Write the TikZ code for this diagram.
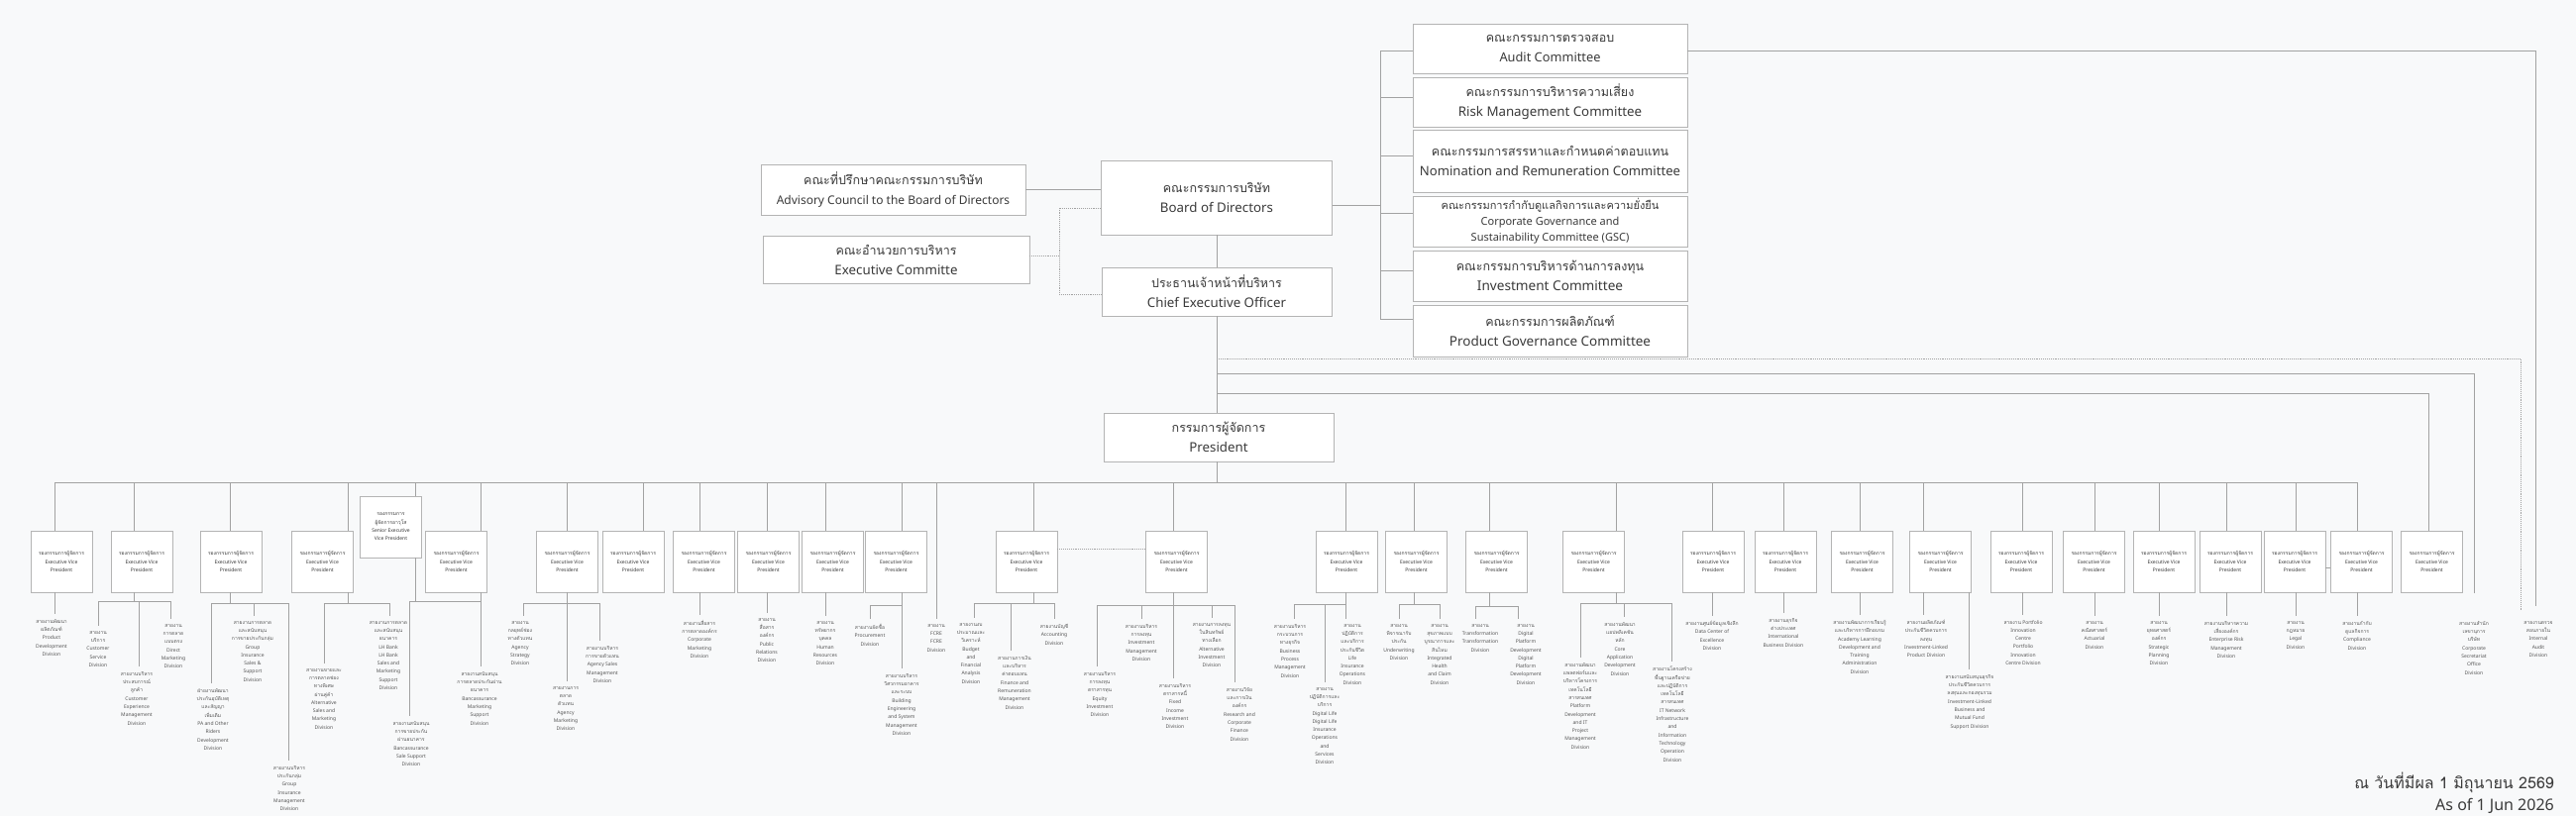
\documentclass[tikz,border=0pt]{standalone}
\usepackage{fontspec}
\setmainfont{Noto Sans}
\newfontfamily\thaifont[Script=Thai]{Loma}
\definecolor{bg}{HTML}{F8F9FA}
\definecolor{linec}{HTML}{A2A2A2}
\definecolor{boxc}{HTML}{B4B4B4}
\definecolor{txt}{HTML}{3A3A3A}
\definecolor{dtxt}{HTML}{555555}
\newcommand\thl[1]{{\thaifont #1}}
\newcommand\tht[1]{{\thaifont\fontsize{12.5}{20}\selectfont #1}}
\newcommand\evptxt{\thl{รองกรรมการผู้จัดการ}\\Executive Vice\\President}
\tikzset{
  topbox/.style={draw=boxc, fill=white, line width=0.9pt, align=center, inner sep=0pt, text=txt, font=\fontsize{13.3}{20}\selectfont},
  combox/.style={topbox, minimum width=277pt},
  evpbox/.style={draw=boxc, fill=white, line width=0.9pt, align=center, inner sep=0pt, minimum width=62pt, minimum height=62pt, text=txt, font=\fontsize{5}{8.3}\selectfont},
  divtext/.style={align=center, inner sep=0pt, anchor=north, text=dtxt, font=\fontsize{5}{8.3}\selectfont},
  conn/.style={draw=linec, line width=1pt},
  dotconn/.style={draw=linec, line width=0.9pt, densely dotted},
}
\newcommand\evp[3]{%
  \node[evpbox] (#1) at (#2,567) {\evptxt};
  \coordinate (#1t) at (#3,487);
  \draw[conn] (#1t) -- (#1t |- #1.north);
}
\newcommand\dv[6]{%
  \coordinate (#1s) at (#2,#3);
  \node[divtext] (#1) at (#4,#5) {#6};
  \draw[conn,shorten >=5pt] (#1s) -- (#1s |- #1.north);
}
\newcommand\subbus[5]{%
  \coordinate (#1b) at (#2,#3);
  \draw[conn] (#1b |- #1.south) -- (#1b);
  \draw[conn] (#4s) -- (#5s);
}
\begin{document}
\begin{tikzpicture}[x=1pt,y=-1pt]
\fill[bg] (0,0) rectangle (2600,824);
\useasboundingbox (0,0) rectangle (2600,824);

% ---------- top part ----------
\node[topbox, minimum width=233pt, minimum height=75pt] (board) at (1228,199.5) {\tht{คณะกรรมการบริษัท}\\Board of Directors};
\node[topbox, minimum width=232pt, minimum height=49pt] (ceo) at (1228,294.5) {\tht{ประธานเจ้าหน้าที่บริหาร}\\Chief Executive Officer};
\node[topbox, minimum width=232pt, minimum height=49pt] (pres) at (1230,441.5) {\tht{กรรมการผู้จัดการ}\\President};
\node[topbox, minimum width=267pt, minimum height=51pt, font=\fontsize{12}{20}\selectfont] (adv) at (901.5,191.5) {\tht{คณะที่ปรึกษาคณะกรรมการบริษัท}\\Advisory Council to the Board of Directors};
\node[topbox, minimum width=269pt, minimum height=48pt] (exc) at (904.5,262) {\tht{คณะอำนวยการบริหาร}\\Executive Committe};

\node[combox, minimum height=50pt, font=\fontsize{12.8}{20}\selectfont] (audit) at (1564.5,49) {\tht{คณะกรรมการตรวจสอบ}\\Audit Committee};
\node[combox, minimum height=50pt] (risk) at (1564.5,103) {\tht{คณะกรรมการบริหารความเสี่ยง}\\Risk Management Committee};
\node[combox, minimum height=63pt, font=\fontsize{13.1}{20}\selectfont] (nom) at (1564.5,162.5) {\tht{คณะกรรมการสรรหาและกำหนดค่าตอบแทน}\\Nomination and Remuneration Committee};
\node[combox, minimum height=51pt, font=\fontsize{11}{16}\selectfont] (cgs) at (1564.5,223.5) {\thl{คณะกรรมการกำกับดูแลกิจการและความยั่งยืน}\\Corporate Governance and\\Sustainability Committee (GSC)};
\node[combox, minimum height=51pt, font=\fontsize{13.6}{20}\selectfont] (inv) at (1564.5,278.5) {\tht{คณะกรรมการบริหารด้านการลงทุน}\\Investment Committee};
\node[combox, minimum height=52pt, font=\fontsize{13.5}{20}\selectfont] (prod) at (1564.5,334) {\tht{คณะกรรมการผลิตภัณฑ์}\\Product Governance Committee};

% board links
\draw[conn] (board.south) -- (ceo.north);
\coordinate (advj) at (1110,191.5);
\draw[conn] (adv.east) -- (board.west |- advj);
\coordinate (dt) at (1069,210);
\coordinate (db) at (1069,297);
\coordinate (dx) at (1069,258);
\draw[dotconn] (board.west |- dt) -- (dt) -- (db) -- (ceo.west |- db);
\draw[dotconn] (exc.east |- dx) -- (dx);

% committees bus
\coordinate (cbj) at (1393,207);
\draw[conn] (board.east |- cbj) -- (cbj);
\coordinate (k1) at (1393,52);
\coordinate (k2) at (1393,99);
\coordinate (k3) at (1393,158);
\coordinate (k4) at (1393,215);
\coordinate (k5) at (1393,273);
\coordinate (k6) at (1393,322);
\draw[conn] (k1) -- (k6);
\draw[conn] (k1) -- (k1 -| audit.west);
\draw[conn] (k2) -- (k2 -| risk.west);
\draw[conn] (k3) -- (k3 -| nom.west);
\draw[conn] (k4) -- (k4 -| cgs.west);
\draw[conn] (k5) -- (k5 -| inv.west);
\draw[conn] (k6) -- (k6 -| prod.west);

% trunk
\coordinate (busc) at (1228,487);
\coordinate (tr0) at (1228,362);
\coordinate (tr2) at (1228,377);
\coordinate (tr3) at (1228,397);
\draw[conn] (ceo.south) -- (pres.north -| ceo.south);
\draw[conn] (pres.south -| busc) -- (busc);

% ---------- EVP boxes ----------
\evp{a1}{62}{55}
\evp{a2}{143}{135}
\evp{a3}{233}{232}
\evp{a4}{325.5}{351}
\node[evpbox] (a5) at (394.5,532) {\thl{รองกรรมการ}\\\thl{ผู้จัดการอาวุโส}\\Senior Executive\\Vice President};
\coordinate (a5t) at (419,487);
\draw[conn] (a5t) -- (a5t |- a5.north);
\evp{a6}{460.5}{485}
\evp{a7}{572.5}{572}
\evp{a8}{639}{649}
\evp{a9}{710.5}{706}
\evp{a10}{775.5}{774}
\evp{a11}{840.5}{833}
\evp{a12}{904.5}{910}
\coordinate (fct) at (945,487);
\evp{a13}{1036}{1043}
\evp{a14}{1187.5}{1184}
\evp{a15}{1359}{1358}
\evp{a16}{1429.5}{1427}
\evp{a17}{1510.5}{1503}
\evp{a18}{1608.5}{1631}
\evp{a19}{1729}{1728}
\evp{a20}{1802}{1800}
\evp{a21}{1879.5}{1877}
\evp{a22}{1958.5}{1941}
\evp{a23}{2040}{2041}
\evp{a24}{2113.5}{2114}
\evp{a25}{2184}{2179}
\evp{a26}{2251}{2247}
\evp{a27}{2316}{2317}
\evp{a28}{2383.5}{2379}
\node[evpbox] (a29) at (2454.5,567) {\evptxt};
\coordinate (a29t) at (2451,397);

% main bus
\draw[conn] (a1t) -- (a28t);
\draw[conn] (tr3) -- (a29t) -- (a29t |- a29.north);
\draw[dotconn] (a13.east |- 0,554) -- (a14.west |- 0,554);
\draw[conn] (a27.east |- 0,573) -- (a28.west |- 0,573);

% ---------- divisions ----------
% a1
\dv{d1}{55}{598}{52}{625}{\thl{สายงานพัฒนา}\\\thl{ผลิตภัณฑ์}\\Product\\Development\\Division}
% a2
\dv{d2a}{99}{607}{99}{637}{\thl{สายงาน}\\\thl{บริการ}\\Customer\\Service\\Division}
\dv{d2b}{140}{607}{138}{678}{\thl{สายงานบริหาร}\\\thl{ประสบการณ์}\\\thl{ลูกค้า}\\Customer\\Experience\\Management\\Division}
\dv{d2c}{172}{607}{175}{630}{\thl{สายงาน}\\\thl{การตลาด}\\\thl{แบบตรง}\\Direct\\Marketing\\Division}
\subbus{a2}{135}{607}{d2a}{d2c}
% a3
\dv{d3a}{213}{609}{215}{695}{\thl{ฝ่ายงานพัฒนา}\\\thl{ประกันอุบัติเหตุ}\\\thl{และสัญญา}\\\thl{เพิ่มเติม}\\PA and Other\\Riders\\Development\\Division}
\dv{d3b}{256}{609}{255}{627}{\thl{สายงานการตลาด}\\\thl{และสนับสนุน}\\\thl{การขายประกันกลุ่ม}\\Group\\Insurance\\Sales \&\\Support\\Division}
\dv{d3c}{291}{609}{292}{773}{\thl{สายงานบริหาร}\\\thl{ประกันกลุ่ม}\\Group\\Insurance\\Management\\Division}
\subbus{a3}{232}{609}{d3a}{d3c}
% a4
\dv{d4a}{327}{609}{327}{675}{\thl{สายงานขายและ}\\\thl{การตลาดช่อง}\\\thl{ทางพิเศษ}\\\thl{ผ่านคู่ค้า}\\Alternative\\Sales and\\Marketing\\Division}
\dv{d4b}{393}{609}{392}{627}{\thl{สายงานการตลาด}\\\thl{และสนับสนุน}\\\thl{ธนาคาร}\\LH Bank\\LH Bank\\Sales and\\Marketing\\Support\\Division}
\subbus{a4}{351}{609}{d4a}{d4b}
% a5 / a6
\coordinate (a5b) at (419,607);
\draw[conn] (a5b |- a5.south) -- (a5b);
\dv{d5}{413}{607}{415}{728}{\thl{สายงานสนับสนุน}\\\thl{การขายประกัน}\\\thl{ผ่านธนาคาร}\\Bancassurance\\Sale Support\\Division}
\dv{d6}{485}{598}{484}{678}{\thl{สายงานสนับสนุน}\\\thl{การตลาดประกันผ่าน}\\\thl{ธนาคาร}\\Bancassurance\\Marketing\\Support\\Division}
\coordinate (a6j) at (485,607);
\draw[conn] (d5s) -- (a6j);
% a7
\dv{d7a}{528}{609}{525}{627}{\thl{สายงาน}\\\thl{กลยุทธ์ช่อง}\\\thl{ทางตัวแทน}\\Agency\\Strategy\\Division}
\dv{d7b}{572}{609}{571}{693}{\thl{สายงานการ}\\\thl{ตลาด}\\\thl{ตัวแทน}\\Agency\\Marketing\\Division}
\dv{d7c}{605}{609}{608}{652}{\thl{สายงานบริหาร}\\\thl{การขายตัวแทน}\\Agency Sales\\Management\\Division}
\subbus{a7}{572}{609}{d7a}{d7c}
% a9 a10 a11
\dv{d9}{706}{598}{706}{626}{\thl{สายงานสื่อสาร}\\\thl{การตลาดองค์กร}\\Corporate\\Marketing\\Division}
\dv{d10}{774}{598}{774}{624}{\thl{สายงาน}\\\thl{สื่อสาร}\\\thl{องค์กร}\\Public\\Relations\\Division}
\dv{d11}{833}{598}{833}{627}{\thl{สายงาน}\\\thl{ทรัพยากร}\\\thl{บุคคล}\\Human\\Resources\\Division}
% a12
\dv{d12a}{878}{611}{878}{630}{\thl{สายงานจัดซื้อ}\\Procurement\\Division}
\dv{d12b}{910}{611}{910}{680}{\thl{สายงานบริหาร}\\\thl{วิศวกรรมอาคาร}\\\thl{และระบบ}\\Building\\Engineering\\and System\\Management\\Division}
\subbus{a12}{910}{611}{d12a}{d12b}
% FCRE
\dv{dfc}{945}{487}{945}{630}{\thl{สายงาน}\\FCRE\\FCRE\\Division}
% a13
\dv{d13a}{983}{609}{980}{629}{\thl{สายงานงบ}\\\thl{ประมาณและ}\\\thl{วิเคราะห์}\\Budget\\and\\Financial\\Analysis\\Division}
\dv{d13b}{1020}{609}{1024}{662}{\thl{สายงานการเงิน}\\\thl{และบริหาร}\\\thl{ค่าตอบแทน}\\Finance and\\Remuneration\\Management\\Division}
\dv{d13c}{1064}{609}{1064}{630}{\thl{สายงานบัญชี}\\Accounting\\Division}
\subbus{a13}{1043}{609}{d13a}{d13c}
% a14
\dv{d14a}{1107}{611}{1110}{678}{\thl{สายงานบริหาร}\\\thl{การลงทุน}\\\thl{ตราสารทุน}\\Equity\\Investment\\Division}
\dv{d14b}{1152}{611}{1152}{630}{\thl{สายงานบริหาร}\\\thl{การลงทุน}\\Investment\\Management\\Division}
\dv{d14c}{1184}{611}{1186}{690}{\thl{สายงานบริหาร}\\\thl{ตราสารหนี้}\\Fixed\\Income\\Investment\\Division}
\dv{d14d}{1223}{611}{1223}{629}{\thl{สายงานการลงทุน}\\\thl{ในสินทรัพย์}\\\thl{ทางเลือก}\\Alternative\\Investment\\Division}
\dv{d14e}{1246}{611}{1251}{694}{\thl{สายงานวิจัย}\\\thl{และการเงิน}\\\thl{องค์กร}\\Research and\\Corporate\\Finance\\Division}
\subbus{a14}{1184}{611}{d14a}{d14e}
% a15
\dv{d15a}{1306}{610}{1302}{630}{\thl{สายงานบริหาร}\\\thl{กระบวนการ}\\\thl{ทางธุรกิจ}\\Business\\Process\\Management\\Division}
\dv{d15b}{1337}{610}{1337}{694}{\thl{สายงาน}\\\thl{ปฏิบัติการและ}\\\thl{บริการ}\\Digital Life\\Digital Life\\Insurance\\Operations\\and\\Services\\Division}
\dv{d15c}{1358}{610}{1365}{630}{\thl{สายงาน}\\\thl{ปฏิบัติการ}\\\thl{และบริการ}\\\thl{ประกันชีวิต}\\Life\\Insurance\\Operations\\Division}
\subbus{a15}{1358}{610}{d15a}{d15c}
% a16
\dv{d16a}{1412}{610}{1412}{630}{\thl{สายงาน}\\\thl{พิจารณารับ}\\\thl{ประกัน}\\Underwriting\\Division}
\dv{d16b}{1453}{610}{1453}{630}{\thl{สายงาน}\\\thl{สุขภาพแบบ}\\\thl{บูรณาการและ}\\\thl{สินไหม}\\Integrated\\Health\\and Claim\\Division}
\subbus{a16}{1427}{610}{d16a}{d16b}
% a17
\dv{d17a}{1489}{612}{1494}{630}{\thl{สายงาน}\\Transformation\\Transformation\\Division}
\dv{d17b}{1532}{612}{1540}{630}{\thl{สายงาน}\\Digital\\Platform\\Development\\Digital\\Platform\\Development\\Division}
\subbus{a17}{1503}{612}{d17a}{d17b}
% a18
\dv{d18a}{1595}{609}{1595}{669}{\thl{สายงานพัฒนา}\\\thl{แพลตฟอร์มและ}\\\thl{บริหารโครงการ}\\\thl{เทคโนโลยี}\\\thl{สารสนเทศ}\\Platform\\Development\\and IT\\Project\\Management\\Division}
\dv{d18b}{1639}{609}{1635}{628}{\thl{สายงานพัฒนา}\\\thl{แอปพลิเคชัน}\\\thl{หลัก}\\Core\\Application\\Development\\Division}
\dv{d18c}{1687}{609}{1688}{673}{\thl{สายงานโครงสร้าง}\\\thl{พื้นฐานเครือข่าย}\\\thl{และปฏิบัติการ}\\\thl{เทคโนโลยี}\\\thl{สารสนเทศ}\\IT Network\\Infrastructure\\and\\Information\\Technology\\Operation\\Division}
\subbus{a18}{1631}{609}{d18a}{d18c}
% a19 .. a28
\dv{d19}{1728}{598}{1728}{627}{\thl{สายงานศูนย์ข้อมูลเชิงลึก}\\Data Center of\\Excellence\\Division}
\dv{d20}{1800}{598}{1800}{624}{\thl{สายงานธุรกิจ}\\\thl{ต่างประเทศ}\\International\\Business Division}
\dv{d21}{1877}{598}{1877}{626}{\thl{สายงานพัฒนาการเรียนรู้}\\\thl{และบริหารการฝึกอบรม}\\Academy Learning\\Development and\\Training\\Administration\\Division}
\dv{d22a}{1941}{598}{1944}{626}{\thl{สายงานผลิตภัณฑ์}\\\thl{ประกันชีวิตควบการ}\\\thl{ลงทุน}\\Investment-Linked\\Product Division}
\dv{d22b}{1987}{598}{1988}{681}{\thl{สายงานสนับสนุนธุรกิจ}\\\thl{ประกันชีวิตควบการ}\\\thl{ลงทุนและกองทุนรวม}\\Investment-Linked\\Business and\\Mutual Fund\\Support Division}
\dv{d23}{2041}{598}{2042}{626}{\thl{สายงาน} Portfolio\\Innovation\\Centre\\Portfolio\\Innovation\\Centre Division}
\dv{d24}{2114}{598}{2114}{627}{\thl{สายงาน}\\\thl{คณิตศาสตร์}\\Actuarial\\Division}
\dv{d25}{2179}{598}{2179}{627}{\thl{สายงาน}\\\thl{ยุทธศาสตร์}\\\thl{องค์กร}\\Strategic\\Planning\\Division}
\dv{d26}{2247}{598}{2247}{627}{\thl{สายงานบริหารความ}\\\thl{เสี่ยงองค์กร}\\Enterprise Risk\\Management\\Division}
\dv{d27}{2317}{598}{2317}{627}{\thl{สายงาน}\\\thl{กฎหมาย}\\Legal\\Division}
\dv{d28}{2379}{598}{2379}{627}{\thl{สายงานกำกับ}\\\thl{ดูแลกิจการ}\\Compliance\\Division}

% corporate secretariat
\node[divtext] (dcs) at (2497,627) {\thl{สายงานสำนัก}\\\thl{เลขานุการ}\\\thl{บริษัท}\\Corporate\\Secretariat\\Office\\Division};
\coordinate (csj) at (2497,377);
\draw[conn, shorten >=28pt] (tr2) -- (csj) -- (csj |- dcs.north);

% internal audit
\node[divtext] (dia) at (2562,627) {\thl{สายงานตรวจ}\\\thl{สอบภายใน}\\Internal\\Audit\\Division};
\coordinate (iaj) at (2559,52);
\draw[conn, shorten >=15pt] (audit.east |- iaj) -- (iaj) -- (iaj |- dia.north);
\coordinate (iad) at (2544,362);
\draw[dotconn, shorten >=10pt] (tr0) -- (iad) -- (iad |- dia.north);

% date
\node[anchor=north east, align=right, inner sep=0pt, text=txt, font=\fontsize{16}{22}\selectfont] (date) at (2578,780) {\thl{ณ วันที่มีผล 1 มิถุนายน 2569}\\As of 1 Jun 2026};
\end{tikzpicture}
\end{document}
